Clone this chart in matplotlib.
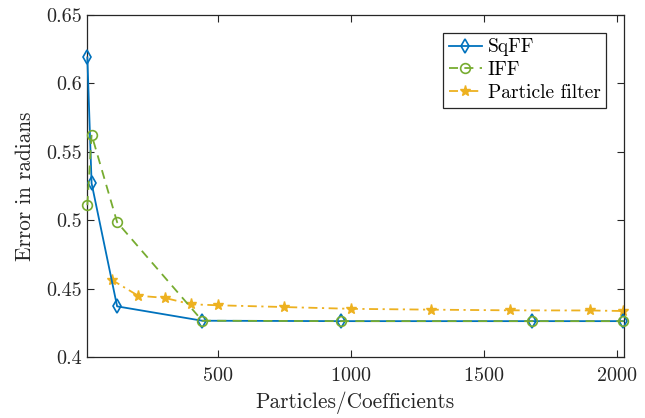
import matplotlib
matplotlib.use("Agg")
from matplotlib import pyplot as plt

plt.rcParams['font.family'] = ['cmr10', 'DejaVu Serif']
plt.rcParams['axes.formatter.use_mathtext'] = True
plt.rcParams['mathtext.fontset'] = 'cm'

# data
sq_x = [9, 25, 121, 441, 961, 1681, 2025]
sq_y = [0.619, 0.527, 0.437, 0.4265, 0.4262, 0.4262, 0.4262]

iff_x = [9, 25, 121, 441, 961, 1681, 2025]
iff_y = [0.511, 0.5625, 0.4985, 0.4265, 0.4262, 0.4262, 0.4262]

pf_x = [100, 200, 300, 400, 500, 750, 1000, 1300, 1600, 1900, 2025]
pf_y = [0.4565, 0.4448, 0.4432, 0.4385, 0.4378, 0.4365, 0.4352, 0.4346, 0.4341, 0.4340, 0.4336]

x_ticks = [500, 1000, 1500, 2000]
y_ticks = [0.4, 0.45, 0.5, 0.55, 0.6, 0.65]

fig = plt.figure(figsize=(6.45, 4.18), dpi=100)
ax = fig.add_axes([0.135, 0.146, 0.832, 0.818])

ax.plot(sq_x, sq_y, '-', color='#0072BD', lw=1.3, marker='d', ms=7,
        mfc='none', mew=1.2, label='SqFF', zorder=3, clip_on=False)
ax.plot(iff_x, iff_y, color='#77AC30', lw=1.3, marker='o', ms=7, dashes=(5, 3.5),
        mfc='none', mew=1.2, label='IFF', zorder=4, clip_on=False)
ax.plot(pf_x, pf_y, color='#EDB120', lw=1.3, marker='*', ms=8, dashes=(5, 2.5, 1.2, 2.5),
        mfc='#EDB120', mew=1.0, label='Particle filter', zorder=2, clip_on=False)

ax.set_xlim(8, 2026)
ax.set_ylim(0.4, 0.65)
ax.set_xticks(x_ticks)
ax.set_yticks(y_ticks)
ax.set_yticklabels(['0.4', '0.45', '0.5', '0.55', '0.6', '0.65'])
ax.tick_params(direction='in', top=True, right=True, labelsize=14.5,
               colors='#262626', length=5, width=0.8)
ax.tick_params(axis='x', pad=7)
for s in ax.spines.values():
    s.set_color('#262626')
    s.set_linewidth(0.9)

ax.set_xlabel('Particles/Coefficients', fontsize=15.3, color='#262626', labelpad=5)
ax.set_ylabel('Error in radians', fontsize=15.3, color='#262626', labelpad=8)

leg = ax.legend(loc='upper right', fontsize=14, fancybox=False, framealpha=1,
                edgecolor='#262626', handlelength=1.7, handletextpad=0.3,
                borderpad=0.3, labelspacing=0.25, borderaxespad=0.9)
leg.get_frame().set_linewidth(0.9)

fig.savefig('out.png', dpi=100)
